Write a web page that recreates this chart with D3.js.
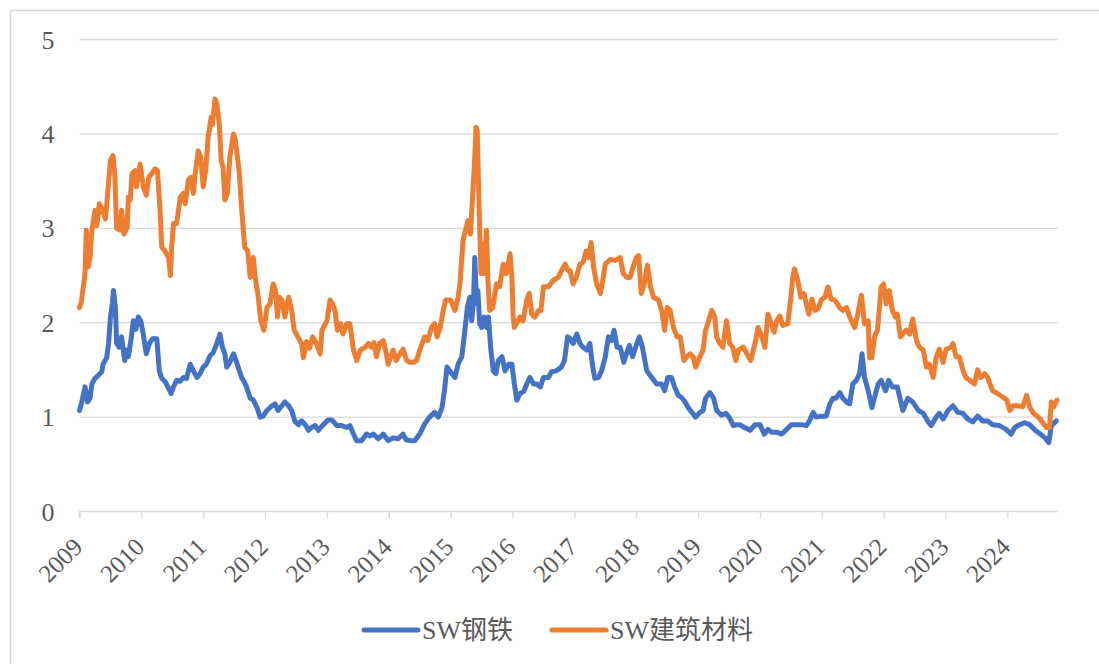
<!DOCTYPE html>
<html>
<head>
<meta charset="utf-8">
<script src="https://cdn.jsdelivr.net/npm/d3@7"></script>
<style>
  body { margin: 0; background: #fff; }
  text { font-family: "Liberation Serif", "Times New Roman", serif; fill: #595959; }
  .cjk { font-family: "Liberation Serif", "Noto Sans CJK SC", serif; }
</style>
</head>
<body>
<script>
// values (x as decimal year)
var steelDates = [2009.00,2009.04,2009.09,2009.13,2009.17,2009.20,2009.25,2009.30,2009.36,2009.38,2009.44,2009.47,2009.50,2009.53,2009.55,2009.58,2009.60,2009.64,2009.68,2009.73,2009.76,2009.79,2009.83,2009.87,2009.91,2009.95,2009.99,
  2010.03,2010.08,2010.13,2010.18,2010.25,2010.29,2010.33,2010.38,2010.43,2010.48,2010.52,2010.57,2010.63,2010.68,2010.73,2010.79,2010.84,2010.90,2010.95,
  2011.00,2011.05,2011.11,2011.16,2011.22,2011.27,2011.31,2011.35,2011.38,2011.43,2011.49,2011.53,2011.57,2011.62,2011.65,2011.70,2011.76,2011.81,2011.87,2011.92,2011.97,
  2012.03,2012.11,2012.16,2012.21,2012.27,2012.32,2012.38,2012.43,2012.48,2012.54,2012.59,2012.65,2012.70,2012.75,2012.81,2012.86,2012.94,
  2013.02,2013.08,2013.16,2013.24,2013.32,2013.37,2013.43,2013.48,2013.56,2013.64,2013.70,2013.75,2013.83,2013.91,2013.99,
  2014.07,2014.15,2014.23,2014.28,2014.34,2014.42,2014.50,2014.58,2014.66,2014.74,2014.80,2014.86,2014.90,2014.94,
  2015.02,2015.07,2015.12,2015.18,2015.23,2015.27,2015.31,2015.34,2015.37,2015.39,2015.42,2015.44,2015.47,2015.50,2015.54,2015.58,2015.61,2015.65,2015.69,2015.73,2015.77,2015.83,2015.88,2015.94,2015.99,
  2016.03,2016.07,2016.12,2016.18,2016.23,2016.28,2016.34,2016.39,2016.45,2016.50,2016.58,2016.63,2016.71,2016.79,2016.84,2016.89,2016.93,2016.98,
  2017.04,2017.09,2017.14,2017.20,2017.25,2017.29,2017.33,2017.39,2017.44,2017.50,2017.55,2017.60,2017.64,2017.69,2017.74,2017.80,2017.84,2017.89,2017.94,2017.99,
  2018.05,2018.10,2018.17,2018.25,2018.33,2018.41,2018.46,2018.51,2018.57,2018.62,2018.68,2018.73,2018.79,2018.84,2018.90,2018.96,
  2019.03,2019.08,2019.12,2019.19,2019.25,2019.30,2019.38,2019.45,2019.51,2019.57,2019.62,2019.67,2019.75,2019.84,2019.92,
  2020.00,2020.07,2020.13,2020.19,2020.27,2020.35,2020.43,2020.51,2020.59,2020.67,2020.75,2020.80,2020.86,2020.91,2020.99,
  2021.07,2021.13,2021.18,2021.23,2021.29,2021.34,2021.40,2021.45,2021.50,2021.56,2021.61,2021.65,2021.69,2021.75,2021.81,2021.85,2021.91,2021.96,
  2022.03,2022.08,2022.14,2022.22,2022.31,2022.39,2022.47,2022.56,2022.64,2022.72,2022.77,2022.85,2022.90,2022.96,
  2023.04,2023.12,2023.20,2023.28,2023.36,2023.44,2023.52,2023.60,2023.68,2023.76,2023.87,2023.98,
  2024.06,2024.12,2024.20,2024.28,2024.36,2024.45,2024.53,2024.61,2024.67,2024.71,2024.79];
var steelValues = [1.07,1.17,1.32,1.16,1.20,1.35,1.41,1.44,1.48,1.56,1.63,1.78,2.06,2.20,2.34,2.16,1.78,1.74,1.85,1.60,1.71,1.64,1.81,2.02,1.93,2.06,2.02,
  1.88,1.67,1.78,1.83,1.83,1.49,1.41,1.38,1.32,1.25,1.32,1.39,1.38,1.42,1.41,1.56,1.49,1.42,1.46,
  1.53,1.56,1.65,1.68,1.78,1.88,1.74,1.67,1.53,1.58,1.67,1.60,1.52,1.42,1.39,1.32,1.20,1.18,1.10,1.00,1.01,
  1.07,1.12,1.14,1.07,1.12,1.16,1.12,1.07,0.96,0.92,0.96,0.92,0.86,0.89,0.91,0.86,0.92,
  0.97,0.97,0.91,0.91,0.89,0.91,0.82,0.75,0.75,0.82,0.80,0.82,0.77,0.82,0.75,
  0.78,0.77,0.82,0.76,0.75,0.75,0.82,0.93,1.00,1.05,1.00,1.10,1.28,1.53,
  1.46,1.42,1.56,1.64,1.92,2.16,2.27,2.02,2.24,2.69,2.20,2.34,1.99,1.95,2.06,1.95,2.06,1.71,1.49,1.46,1.60,1.64,1.49,1.56,1.56,
  1.35,1.18,1.25,1.27,1.35,1.42,1.35,1.35,1.32,1.42,1.42,1.48,1.49,1.53,1.60,1.85,1.83,1.78,
  1.88,1.78,1.74,1.71,1.78,1.56,1.41,1.42,1.49,1.64,1.85,1.81,1.92,1.74,1.74,1.58,1.67,1.76,1.64,1.74,
  1.85,1.74,1.49,1.42,1.35,1.35,1.28,1.42,1.42,1.32,1.23,1.21,1.16,1.10,1.05,1.00,
  1.05,1.07,1.20,1.26,1.20,1.07,1.02,1.04,0.99,0.91,0.92,0.92,0.89,0.86,0.92,
  0.92,0.82,0.87,0.84,0.84,0.82,0.87,0.92,0.92,0.92,0.91,0.96,1.05,1.00,1.01,
  1.01,1.14,1.20,1.20,1.26,1.20,1.16,1.14,1.35,1.39,1.46,1.67,1.42,1.28,1.10,1.20,1.35,1.39,
  1.28,1.39,1.32,1.32,1.07,1.20,1.16,1.07,1.04,0.95,0.91,1.00,1.04,0.98,
  1.07,1.12,1.05,1.04,0.98,0.95,1.01,0.96,0.96,0.92,0.91,0.87,
  0.82,0.89,0.92,0.94,0.92,0.86,0.82,0.78,0.73,0.91,0.96];

var buildDates = [2009.00,2009.03,2009.09,2009.11,2009.14,2009.17,2009.20,2009.25,2009.28,2009.32,2009.36,2009.42,2009.45,2009.50,2009.54,2009.57,2009.60,2009.66,2009.68,2009.72,2009.77,2009.79,2009.82,2009.85,2009.90,2009.92,2009.98,
  2010.03,2010.08,2010.12,2010.17,2010.22,2010.26,2010.30,2010.33,2010.38,2010.44,2010.47,2010.49,2010.52,2010.57,2010.63,2010.68,2010.71,2010.76,2010.80,2010.84,2010.87,2010.92,2010.96,
  2011.00,2011.04,2011.08,2011.13,2011.15,2011.19,2011.22,2011.26,2011.29,2011.32,2011.35,2011.39,2011.43,2011.49,2011.52,2011.58,2011.62,2011.67,2011.72,2011.76,2011.81,2011.84,2011.89,2011.93,2011.98,
  2012.03,2012.08,2012.13,2012.17,2012.20,2012.23,2012.27,2012.32,2012.38,2012.43,2012.47,2012.53,2012.59,2012.62,2012.67,2012.72,2012.77,2012.83,2012.89,2012.92,
  2013.00,2013.05,2013.09,2013.13,2013.17,2013.22,2013.26,2013.32,2013.37,2013.43,2013.48,2013.54,2013.62,2013.67,2013.72,2013.76,2013.80,2013.85,2013.91,2013.96,2013.99,
  2014.07,2014.12,2014.18,2014.23,2014.29,2014.34,2014.40,2014.45,2014.50,2014.58,2014.63,2014.69,2014.74,2014.78,2014.83,2014.88,2014.92,
  2015.00,2015.07,2015.12,2015.15,2015.20,2015.24,2015.28,2015.32,2015.36,2015.39,2015.41,2015.43,2015.46,2015.49,2015.51,2015.53,2015.58,2015.60,2015.63,2015.68,2015.74,2015.79,2015.85,2015.90,2015.96,2015.99,
  2016.01,2016.03,2016.12,2016.17,2016.23,2016.27,2016.31,2016.36,2016.42,2016.46,2016.50,2016.58,2016.66,2016.74,2016.79,2016.85,2016.90,2016.93,2016.98,
  2017.03,2017.09,2017.14,2017.19,2017.23,2017.27,2017.31,2017.36,2017.42,2017.46,2017.50,2017.58,2017.66,2017.74,2017.79,2017.85,2017.90,2017.95,
  2018.00,2018.04,2018.08,2018.13,2018.18,2018.23,2018.28,2018.36,2018.41,2018.46,2018.50,2018.55,2018.60,2018.66,2018.71,2018.77,2018.82,2018.87,2018.92,2018.96,
  2019.03,2019.08,2019.12,2019.17,2019.22,2019.27,2019.30,2019.35,2019.40,2019.46,2019.51,2019.56,2019.61,2019.65,2019.73,2019.79,2019.85,2019.92,2019.97,
  2020.03,2020.08,2020.13,2020.18,2020.23,2020.27,2020.32,2020.37,2020.45,2020.50,2020.53,2020.56,2020.61,2020.66,2020.71,2020.75,2020.79,2020.84,2020.89,2020.94,2020.99,
  2021.05,2021.10,2021.15,2021.21,2021.29,2021.34,2021.40,2021.45,2021.53,2021.58,2021.64,2021.69,2021.75,2021.77,2021.81,2021.85,2021.90,2021.96,
  2022.00,2022.04,2022.09,2022.14,2022.19,2022.22,2022.27,2022.36,2022.42,2022.47,2022.53,2022.58,2022.64,2022.69,2022.74,2022.80,2022.85,2022.90,2022.96,
  2023.01,2023.09,2023.12,2023.17,2023.22,2023.28,2023.33,2023.39,2023.47,2023.52,2023.57,2023.63,2023.68,2023.76,2023.84,2023.93,2023.99,
  2024.04,2024.09,2024.17,2024.25,2024.31,2024.36,2024.42,2024.50,2024.55,2024.63,2024.68,2024.71,2024.75,2024.80];
var buildValues = [2.16,2.22,2.52,2.98,2.59,2.69,2.98,3.19,3.03,3.26,3.21,3.10,3.33,3.72,3.77,3.58,3.00,2.98,3.19,2.94,3.01,3.33,3.30,3.58,3.61,3.44,3.68,
  3.44,3.35,3.54,3.58,3.63,3.61,3.22,2.80,2.76,2.69,2.50,2.80,3.05,3.05,3.33,3.37,3.26,3.51,3.54,3.37,3.58,3.82,3.75,
  3.44,3.61,3.97,4.18,4.10,4.37,4.32,4.10,3.72,3.65,3.30,3.37,3.75,4.00,3.93,3.61,3.22,2.80,2.76,2.48,2.69,2.48,2.27,2.02,1.92,
  2.16,2.20,2.41,2.34,2.06,2.27,2.24,2.06,2.27,2.13,1.92,1.85,1.78,1.63,1.80,1.73,1.85,1.78,1.67,1.92,
  2.02,2.24,2.20,2.13,1.92,1.99,1.88,1.99,1.99,1.71,1.60,1.71,1.74,1.78,1.74,1.79,1.64,1.78,1.81,1.67,1.56,
  1.71,1.60,1.67,1.72,1.60,1.58,1.58,1.60,1.71,1.85,1.81,1.95,1.99,1.85,1.95,2.13,2.24,
  2.24,2.13,2.27,2.41,2.87,2.98,3.08,2.94,3.40,3.75,4.07,4.03,3.22,2.52,2.84,2.52,2.98,2.48,2.13,2.16,2.41,2.38,2.62,2.52,2.73,2.48,
  2.06,1.95,2.06,2.02,2.24,2.31,2.09,2.06,2.13,2.13,2.38,2.38,2.45,2.48,2.55,2.62,2.55,2.55,2.41,
  2.48,2.62,2.64,2.76,2.69,2.85,2.59,2.41,2.31,2.45,2.62,2.67,2.66,2.69,2.52,2.48,2.48,2.59,
  2.69,2.71,2.31,2.41,2.61,2.38,2.27,2.24,2.13,1.92,2.16,2.13,1.95,1.85,1.85,1.60,1.64,1.67,1.64,1.53,
  1.64,1.71,1.92,2.02,2.13,2.06,1.85,1.78,1.74,2.02,1.78,1.74,1.60,1.71,1.74,1.67,1.60,1.78,1.95,
  1.85,1.74,2.09,1.99,1.90,2.02,2.07,1.97,1.99,2.27,2.48,2.57,2.45,2.27,2.31,2.20,2.09,2.25,2.13,2.15,2.24,
  2.27,2.38,2.25,2.24,2.16,2.13,2.16,2.06,1.95,2.09,2.29,1.99,2.02,1.63,1.63,1.85,1.92,2.38,
  2.41,2.20,2.34,2.13,2.06,2.09,1.85,1.92,1.88,2.04,1.81,1.74,1.71,1.53,1.56,1.42,1.64,1.72,1.58,
  1.72,1.74,1.78,1.64,1.64,1.50,1.42,1.39,1.35,1.50,1.42,1.46,1.42,1.28,1.25,1.21,1.18,
  1.07,1.12,1.12,1.11,1.23,1.11,1.04,1.00,0.96,0.89,0.89,1.16,1.11,1.18];

var yearTicks = d3.range(2009, 2025);
var yTicks = [0, 1, 2, 3, 4, 5];
var seriesNames = ["SW钢铁", "SW建筑材料"];
var seriesColors = ["#4472C4", "#ED7D31"];

var W = 1099, H = 664;
var svg = d3.select("body").append("svg").attr("width", W).attr("height", H);

// frame
svg.append("path").attr("d", "M10.5," + H + "V10.5H" + W)
  .attr("fill", "none").attr("stroke", "#d9d9d9").attr("stroke-width", 1.5);

var x = d3.scaleLinear().domain([2009, 2024.81]).range([79.5, 1057.5]);
var y = d3.scaleLinear().domain([0, 5]).range([511.5, 39.5]);

// grid
svg.append("g").selectAll("line").data(yTicks.filter(function(d) { return d > 0; }))
  .enter().append("line")
  .attr("x1", x(2009)).attr("x2", x(2024.81))
  .attr("y1", function(d) { return y(d); }).attr("y2", function(d) { return y(d); })
  .attr("stroke", "#d9d9d9").attr("stroke-width", 1.3);

// y labels
svg.append("g").selectAll("text").data(yTicks).enter().append("text")
  .attr("x", 48).attr("y", function(d) { return y(d); })
  .attr("dy", "0.35em").attr("text-anchor", "middle")
  .attr("font-size", 26).text(function(d) { return d; });

// x axis
var xAxis = d3.axisBottom(x).tickValues(yearTicks).tickSize(7).tickFormat(d3.format("d"));
var gx = svg.append("g").attr("transform", "translate(0," + y(0) + ")").call(xAxis);
gx.select(".domain").attr("stroke", "#d9d9d9").attr("stroke-width", 1.3)
  .attr("d", "M" + x(2009) + ",7V0H" + x(2024.81));
gx.selectAll(".tick line").attr("stroke", "#d9d9d9").attr("stroke-width", 1.3);
gx.selectAll(".tick text")
  .attr("font-size", 25).attr("fill", "#595959")
  .attr("font-family", "Liberation Serif, serif")
  .attr("text-anchor", "end")
  .attr("dy", null).attr("y", 0)
  .attr("transform", "translate(4,37) rotate(-45)");

// lines
function makeLine(dates, values) {
  return d3.line().x(function(d, i) { return x(dates[i]); })
    .y(function(d) { return y(d); })(values);
}
svg.append("path").attr("d", makeLine(steelDates, steelValues))
  .attr("fill", "none").attr("stroke", seriesColors[0]).attr("stroke-width", 5)
  .attr("stroke-linejoin", "round").attr("stroke-linecap", "round");
svg.append("path").attr("d", makeLine(buildDates, buildValues))
  .attr("fill", "none").attr("stroke", seriesColors[1]).attr("stroke-width", 5)
  .attr("stroke-linejoin", "round").attr("stroke-linecap", "round");

// legend
var legendX = [364, 552];
var lg = svg.append("g").selectAll("g").data(seriesNames).enter().append("g")
  .attr("transform", function(d, i) { return "translate(" + legendX[i] + ",630)"; });
lg.append("line").attr("x1", 0).attr("x2", 54).attr("y1", 0).attr("y2", 0)
  .attr("stroke", function(d, i) { return seriesColors[i]; })
  .attr("stroke-width", 5).attr("stroke-linecap", "round");
lg.append("text").attr("class", "cjk").attr("x", 58).attr("y", 0).attr("dy", "0.35em")
  .attr("font-size", 26).text(function(d) { return d; });
</script>
</body>
</html>
